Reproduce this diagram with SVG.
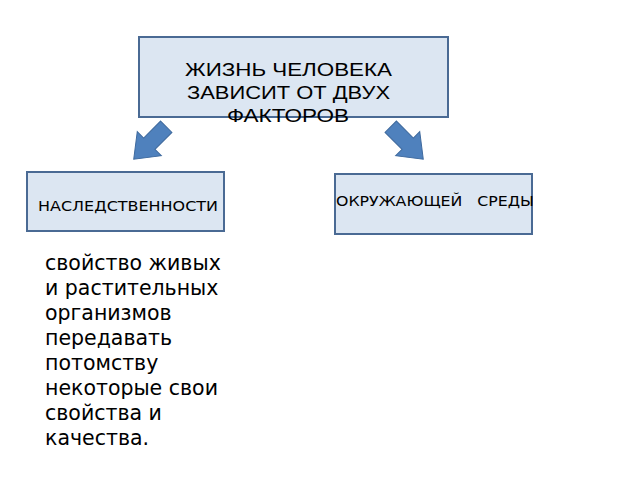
<svg xmlns="http://www.w3.org/2000/svg" width="640" height="480" viewBox="0 0 640 480">
<style>
.box{fill:#dce6f2;stroke:#4a6a94;stroke-width:2}
.t{font-family:"DejaVu Sans",sans-serif;fill:#000}
.h{font-family:"Liberation Sans",Arial,sans-serif;fill:#000;font-size:19px}
.arr{fill:#4f81bd;stroke:#3f6a9e;stroke-width:1}
</style>
<defs><polygon id="a" points="-8,-23 8,-23 8,1 17,1 0,23 -17,1 -8,1"/></defs>
<rect width="640" height="480" fill="#fff"/>
<g id="title"><rect class="box" x="139" y="37" width="309" height="80"/>
<text class="h" x="185" y="76" textLength="207" lengthAdjust="spacingAndGlyphs">ЖИЗНЬ ЧЕЛОВЕКА</text>
<text class="h" x="187" y="99" textLength="203" lengthAdjust="spacingAndGlyphs">ЗАВИСИТ ОТ ДВУХ</text>
<text class="h" x="227" y="122" textLength="122" lengthAdjust="spacingAndGlyphs">ФАКТОРОВ</text></g>
<g id="connectors">
<use href="#a" class="arr" transform="translate(150,143) rotate(45)"/>
<use href="#a" class="arr" transform="translate(407,143) rotate(-45)"/>
</g>
<g id="n1"><rect class="box" x="27" y="172" width="197" height="59"/>
<text class="t" x="38" y="211" font-size="14" textLength="180" lengthAdjust="spacingAndGlyphs">НАСЛЕДСТВЕННОСТИ</text></g>
<g id="n2"><rect class="box" x="335" y="174" width="197" height="60"/>
<text class="t" x="336" y="206" font-size="14" textLength="198" lengthAdjust="spacingAndGlyphs" xml:space="preserve">ОКРУЖАЮЩЕЙ   СРЕДЫ</text></g>
<g id="desc"><text class="t" font-size="20.5"><tspan x="45" y="270">свойство живых</tspan><tspan x="45" y="295">и растительных</tspan><tspan x="45" y="320">организмов</tspan><tspan x="45" y="345">передавать</tspan><tspan x="45" y="370">потомству</tspan><tspan x="45" y="395">некоторые свои</tspan><tspan x="45" y="420">свойства и</tspan><tspan x="45" y="445">качества.</tspan></text></g>
</svg>
